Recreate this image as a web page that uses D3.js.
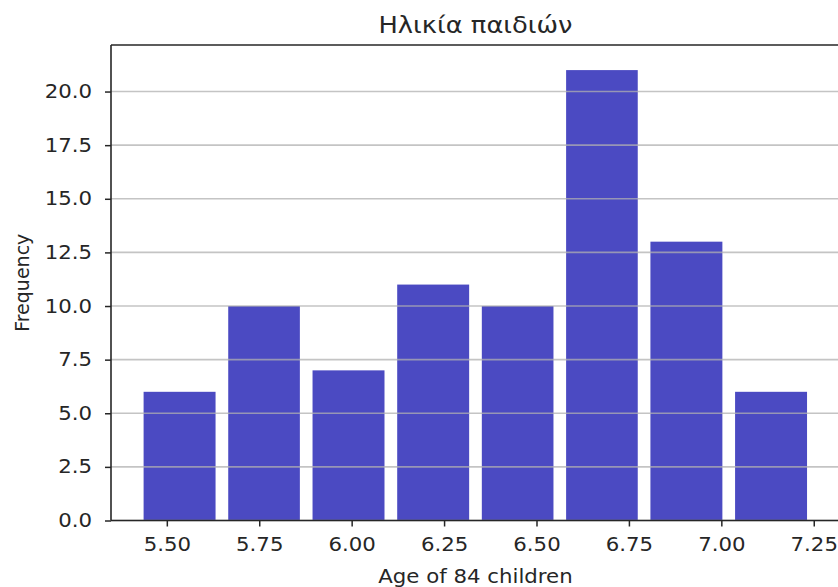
<!DOCTYPE html>
<html>
<head>
<meta charset="utf-8">
<script src="https://cdn.jsdelivr.net/npm/d3@7"></script>
<style>
  body { margin: 0; background: #fff; }
  text { font-family: "DejaVu Sans", sans-serif; fill: #262626; }
</style>
</head>
<body>
<div id="chart"></div>
<script>
var w = 838, h = 587;

// Histogram data: bin edges and counts (84 children)
var binEdges = [5.42, 5.649, 5.877, 6.106, 6.335, 6.563, 6.791, 7.02, 7.249];
var counts = [6, 10, 7, 11, 10, 21, 13, 6];
var xTicks = [5.50, 5.75, 6.00, 6.25, 6.50, 6.75, 7.00, 7.25];
var yTicks = [0, 2.5, 5, 7.5, 10, 12.5, 15, 17.5, 20];
var title = "Ηλικία παιδιών";
var xLabel = "Age of 84 children";
var yLabel = "Frequency";

var plotLeft = 111, plotRight = 840, plotTop = 45, plotBottom = 520.5;
var rwidth = 0.85;
var fontSize = 19, stretch = 1.12;

var xScale = d3.scaleLinear()
  .domain([5.349, 7.321])
  .range([plotLeft, plotRight]);

var yScale = d3.scaleLinear()
  .domain([0, 22.17])
  .range([plotBottom, plotTop]);

var svg = d3.select("#chart")
  .append("svg")
  .attr("width", w)
  .attr("height", h);

// Bars
var bins = counts.map(function(c, i) {
  return { x0: binEdges[i], x1: binEdges[i + 1], n: c };
});

svg.append("g")
  .selectAll("rect")
  .data(bins)
  .enter()
  .append("rect")
  .attr("x", function(d) {
    var bw = xScale(d.x1) - xScale(d.x0);
    return xScale(d.x0) + bw * (1 - rwidth) / 2;
  })
  .attr("width", function(d) {
    return (xScale(d.x1) - xScale(d.x0)) * rwidth;
  })
  .attr("y", function(d) { return yScale(d.n); })
  .attr("height", function(d) { return yScale(0) - yScale(d.n); })
  .attr("fill", "#0504aa")
  .attr("fill-opacity", 0.72);

// Grid lines (drawn over bars, like matplotlib)
svg.append("g")
  .selectAll("line")
  .data(yTicks)
  .enter()
  .append("line")
  .attr("x1", plotLeft)
  .attr("x2", plotRight)
  .attr("y1", function(d) { return yScale(d); })
  .attr("y2", function(d) { return yScale(d); })
  .attr("stroke", "#b0b0b0")
  .attr("stroke-opacity", 0.75)
  .attr("stroke-width", 1.6);

// Axes
var xAxis = d3.axisBottom(xScale)
  .tickValues(xTicks)
  .tickFormat(d3.format(".2f"))
  .tickSize(6)
  .tickPadding(11)
  .tickSizeOuter(0);

var yAxis = d3.axisLeft(yScale)
  .tickValues(yTicks)
  .tickFormat(d3.format(".1f"))
  .tickSize(6)
  .tickPadding(13)
  .tickSizeOuter(0);

var gx = svg.append("g")
  .attr("transform", "translate(0," + plotBottom + ")")
  .call(xAxis);

var gy = svg.append("g")
  .attr("transform", "translate(" + plotLeft + ",0)")
  .call(yAxis);

[gx, gy].forEach(function(g) {
  g.select(".domain").remove();
  g.selectAll(".tick line").attr("stroke", "#262626").attr("stroke-width", 1.5);
  g.selectAll(".tick text")
    .attr("font-family", "DejaVu Sans")
    .attr("font-size", fontSize)
    .attr("fill", "#262626");
});

// Spines (left, bottom, top)
svg.append("line")
  .attr("x1", plotLeft).attr("x2", plotLeft)
  .attr("y1", plotTop).attr("y2", plotBottom)
  .attr("stroke", "#262626").attr("stroke-width", 1.6);
svg.append("line")
  .attr("x1", plotLeft).attr("x2", plotRight)
  .attr("y1", plotBottom).attr("y2", plotBottom)
  .attr("stroke", "#262626").attr("stroke-width", 1.6);
svg.append("line")
  .attr("x1", plotLeft).attr("x2", plotRight)
  .attr("y1", plotTop).attr("y2", plotTop)
  .attr("stroke", "#262626").attr("stroke-width", 1.6);

// Title and labels
svg.append("text")
  .attr("class", "stretch")
  .attr("x", (plotLeft + plotRight) / 2)
  .attr("y", 33)
  .attr("text-anchor", "middle")
  .attr("font-size", 23)
  .text(title);

svg.append("text")
  .attr("class", "stretch")
  .attr("x", (plotLeft + plotRight) / 2)
  .attr("y", 583)
  .attr("text-anchor", "middle")
  .attr("font-size", fontSize)
  .text(xLabel);

svg.append("text")
  .attr("transform", "translate(29," + ((plotTop + plotBottom) / 2) + ") rotate(-90)")
  .attr("text-anchor", "middle")
  .attr("font-size", fontSize)
  .text(yLabel);

// The reference picture is a bit wider than tall, so stretch horizontal text,
// then shift it back so its anchor point stays where it was
svg.selectAll(".tick text, .stretch").each(function() {
  var el = d3.select(this);
  var anchor = el.attr("text-anchor") || window.getComputedStyle(this).textAnchor;
  var b0 = this.getBBox();
  var ref0 = anchor === "end" ? b0.x + b0.width : anchor === "middle" ? b0.x + b0.width / 2 : b0.x;
  el.attr("textLength", this.getComputedTextLength() * stretch)
    .attr("lengthAdjust", "spacingAndGlyphs");
  var b1 = this.getBBox();
  var ref1 = anchor === "end" ? b1.x + b1.width : anchor === "middle" ? b1.x + b1.width / 2 : b1.x;
  var x = +(el.attr("x") || 0);
  el.attr("x", x + ref0 - ref1);
});
</script>
</body>
</html>
